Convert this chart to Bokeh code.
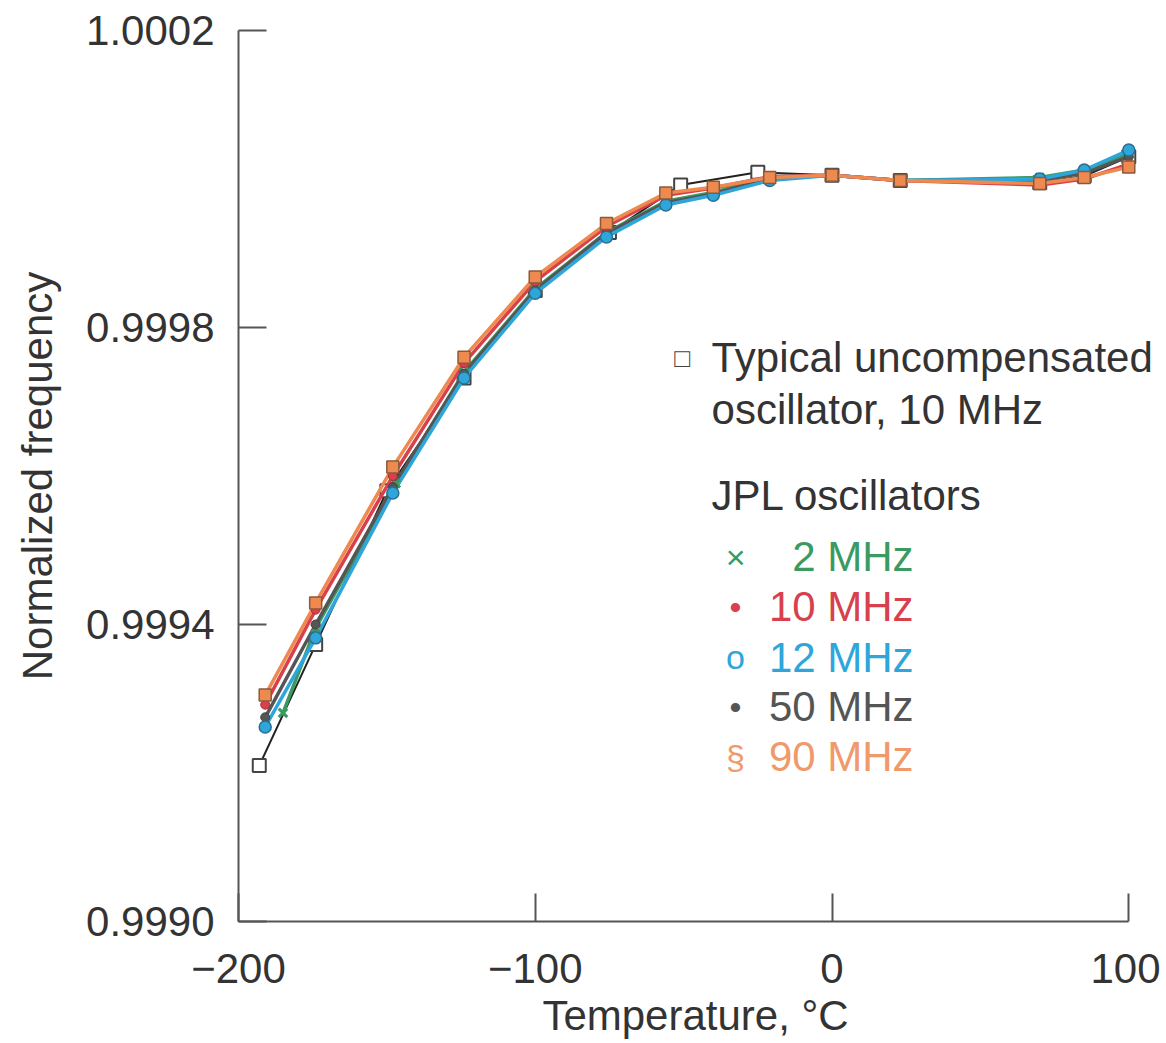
from bokeh.plotting import figure
from bokeh.models import Range1d, FixedTicker, NumeralTickFormatter, Label
from bokeh.embed import file_html
from bokeh.resources import INLINE

# ---------------- data ----------------
temps_typ = [-193, -174, -150, -124, -100, -75, -51, -25, 0, 23, 70, 85, 100]
freq_typ = [0.999210, 0.999373, 0.999580, 0.999732, 0.999850, 0.999928, 0.999992,
            1.000009, 1.000005, 0.999998, 0.999995, 1.000004, 1.000030]

temps_jpl = [-191, -174, -148, -124, -100, -76, -56, -40, -21, 0, 23, 70, 85, 100]
temps_2 = [-185, -174, -147, -124, -100, -76, -56, -40, -21, 0, 23, 70, 85, 100]
freq_2 = [0.999281, 0.999395, 0.999590, 0.999740, 0.999852, 0.999928, 0.999970,
          0.999982, 1.000003, 1.000005, 0.999998, 1.000002, 1.000012, 1.000034]
freq_10 = [0.999292, 0.999420, 0.999600, 0.999752, 0.999862, 0.999936, 0.999978,
           0.999988, 1.000003, 1.000005, 0.999998, 0.999992, 1.000000, 1.000020]
freq_12 = [0.999262, 0.999382, 0.999577, 0.999732, 0.999846, 0.999922, 0.999965,
           0.999978, 0.999998, 1.000005, 0.999998, 1.000000, 1.000012, 1.000039]
freq_50 = [0.999275, 0.999400, 0.999585, 0.999738, 0.999850, 0.999927, 0.999968,
           0.999980, 1.000001, 1.000005, 0.999998, 0.999998, 1.000008, 1.000030]
freq_90 = [0.999305, 0.999429, 0.999612, 0.999760, 0.999868, 0.999940, 0.999981,
           0.999989, 1.000002, 1.000005, 0.999998, 0.999994, 1.000002, 1.000016]

x_ticks = [-200, -100, 0, 100]
x_tick_labels = ["\u2212200", "\u2212100", "0", "100"]
y_ticks = [0.9990, 0.9994, 0.9998, 1.0002]

legend_title_lines = ["Typical uncompensated", "oscillator, 10 MHz"]
legend_group_title = "JPL oscillators"
legend_symbols = ["\u00d7", "\u2022", "o", "\u2022", "\u00a7"]
legend_names = ["2 MHz", "10 MHz", "12 MHz", "50 MHz", "90 MHz"]
legend_colors = ["#3a9a62", "#d8404c", "#2ea6da", "#555555", "#f0996a"]

FONT = "Liberation Sans"

# frame extended slightly past 100 so the legend text is not clipped;
# the axes themselves are bounded to the data range
p = figure(width=1160, height=1041, output_backend="svg", toolbar_location=None,
           x_range=Range1d(-200, 108), y_range=Range1d(0.9990, 1.0002),
           min_border_left=238, min_border_right=8, min_border_top=30,
           min_border_bottom=119)
p.outline_line_color = None
p.grid.grid_line_color = None
p.background_fill_color = "white"

for ax in (p.xaxis[0], p.yaxis[0]):
    ax.axis_line_color = "#555555"
    ax.axis_line_width = 2
    ax.major_tick_line_color = "#555555"
    ax.major_tick_line_width = 2
    ax.major_tick_in = 28
    ax.major_tick_out = 0
    ax.minor_tick_line_color = None
    ax.major_label_text_font = FONT
    ax.major_label_text_font_size = "42px"
    ax.major_label_text_color = "#333333"
    ax.axis_label_text_font = FONT
    ax.axis_label_text_font_size = "42px"
    ax.axis_label_text_color = "#333333"
    ax.axis_label_text_font_style = "normal"

p.xaxis.bounds = (-200, 100)
p.xaxis.ticker = FixedTicker(ticks=x_ticks)
p.xaxis.major_label_overrides = {t: l for t, l in zip(x_ticks, x_tick_labels)}
p.xaxis.major_label_standoff = 32
p.xaxis.axis_label = "Temperature, \u00b0C"
p.xaxis.axis_label_standoff = 6

p.yaxis.ticker = FixedTicker(ticks=y_ticks)
p.yaxis.formatter = NumeralTickFormatter(format="0.0000")
p.yaxis.major_label_standoff = 24
p.yaxis.axis_label = "Normalized frequency"
p.yaxis.axis_label_standoff = 22

# typical uncompensated
p.line(temps_typ, freq_typ, line_color="#222222", line_width=2)
p.scatter(temps_typ, freq_typ, marker="square", size=13, fill_color="white",
          line_color="#444444", line_width=2)

# JPL series
p.line(temps_2, freq_2, line_color=legend_colors[0], line_width=3.5)
p.line(temps_jpl, freq_50, line_color=legend_colors[3], line_width=3.5)
p.line(temps_jpl, freq_12, line_color=legend_colors[2], line_width=3.5)
p.line(temps_jpl, freq_10, line_color=legend_colors[1], line_width=3.5)
p.line(temps_jpl, freq_90, line_color="#ee8a50", line_width=3.5)

p.scatter(temps_2, freq_2, marker="x", size=12, line_color=legend_colors[0], line_width=3)
p.scatter(temps_jpl, freq_50, marker="circle", size=9, fill_color="#555555", line_color="#444444")
p.scatter(temps_jpl, freq_12, marker="circle", size=12, fill_color="#2ea6da", line_color="#2a6f8f", line_width=1.5)
p.scatter(temps_jpl, freq_10, marker="circle", size=9, fill_color="#d8404c", line_color="#a03038")
p.scatter(temps_jpl, freq_90, marker="square", size=12, fill_color="#ee8a50", line_color="#8a5a3a", line_width=1.5)

# legend (text)
def lab(x, y, text, color="#333333", align="left", size="42px"):
    p.add_layout(Label(x=x, y=y, text=text, text_color=color, text_align=align,
                       text_baseline="middle", text_font=FONT, text_font_size=size))

lab(-50.5, 0.999759, "\u25a1", color="#444444", align="center", size="26px")
lab(-40.6, 0.999759, legend_title_lines[0])
lab(-40.6, 0.999689, legend_title_lines[1])
lab(-40.6, 0.999574, legend_group_title)
ys = [0.999491, 0.999424, 0.999356, 0.999289, 0.999222]
for sym, name, col, yy in zip(legend_symbols, legend_names, legend_colors, ys):
    lab(-32.5, yy, sym, color=col, align="center", size="34px")
    lab(27.5, yy, name, color=col, align="right")

open("out.html", "w").write(file_html(p, INLINE))
